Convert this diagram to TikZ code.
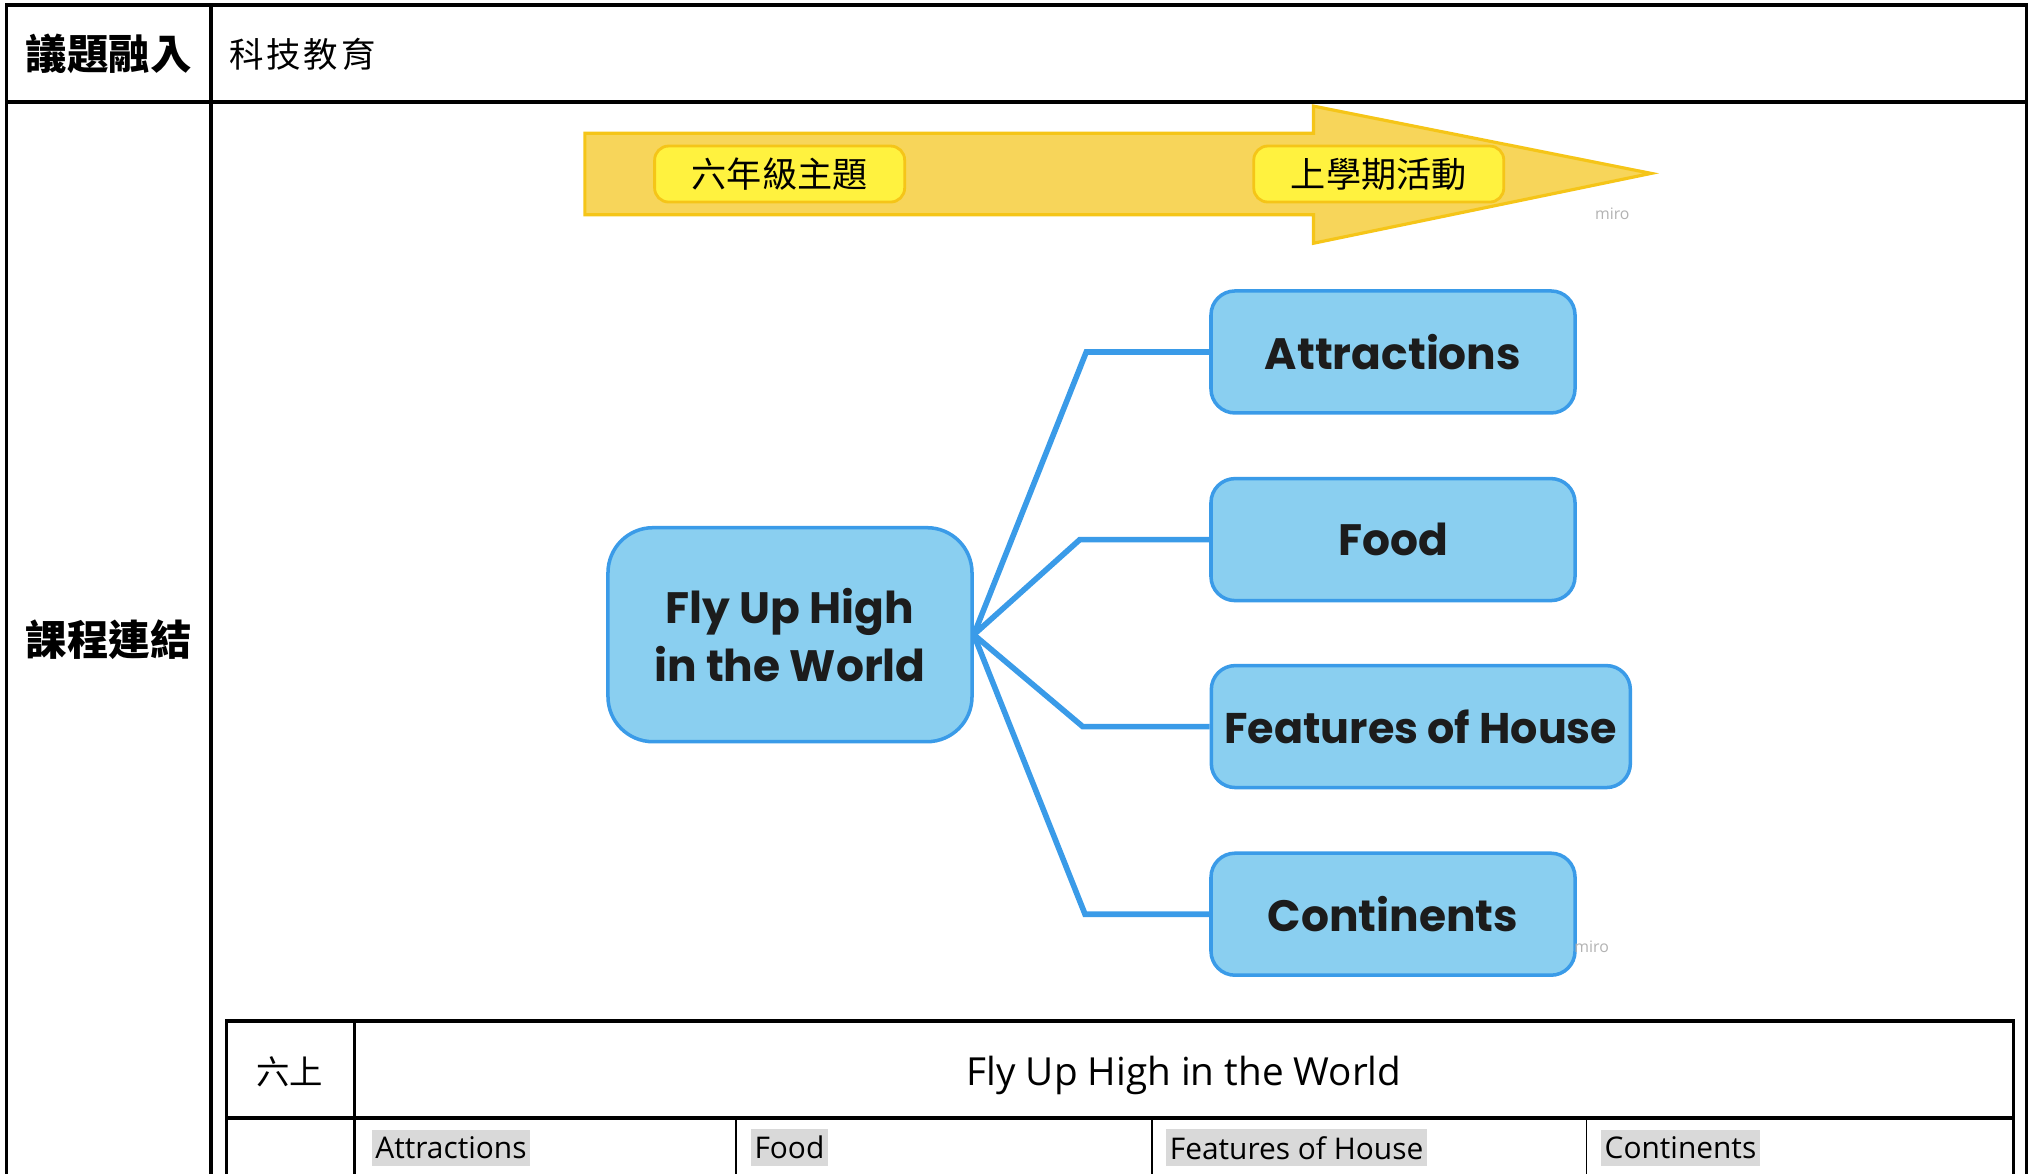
\documentclass[tikz,border=0pt]{standalone}
\usepackage{fontspec}
\setmainfont{Open Sans}
\newfontfamily\cjk{Noto Sans CJK TC}
\newfontfamily\cjkwide{Noto Sans CJK TC}[LetterSpace=8]
\newfontfamily\mapfont{Poppins}
\usetikzlibrary{calc,positioning}

\definecolor{mapfill}{HTML}{8ACFF0}
\definecolor{mapline}{HTML}{3A9BE8}
\definecolor{bandfill}{HTML}{F7D55A}
\definecolor{bandline}{HTML}{F5C518}
\definecolor{tagfill}{HTML}{FFF23F}
\definecolor{marklight}{HTML}{D9D9D9}
\definecolor{inkdark}{HTML}{1C1C1C}

\begin{document}
\begin{tikzpicture}[x=0.01294cm,y=-0.01294cm,line width=1pt,
  topic/.style={draw=mapline,fill=mapfill,line width=1pt,rounded corners=2.4mm,minimum width=3.64cm,minimum height=1.22cm,text=inkdark,font=\mapfont\bfseries\fontsize{12.5}{16.5}\selectfont},
  hubbox/.style={topic,minimum height=2.14cm,rounded corners=4.5mm,align=center},
  branch/.style={draw=mapline,line width=1.6pt},
  tagbox/.style={draw=bandline,fill=tagfill,line width=.8pt,rounded corners=1.4mm,minimum width=2.5cm,minimum height=0.56cm,font=\cjk\fontsize{10}{12}\selectfont},
  head/.style={font=\cjk\bfseries\fontsize{11.8}{13}\selectfont},
  hilite/.style={fill=marklight,inner xsep=1pt,inner ysep=2pt,anchor=west,font=\fontsize{8.5}{10}\selectfont},
  watermark/.style={text=black!30,font=\fontsize{4.5}{5}\selectfont}]

        \useasboundingbox (0,0) rectangle (1568,907);

        % outer table
        \draw (5,907) -- (5,4) -- (1566,4) -- (1566,907);
        \draw (5,79) -- (1566,79);
        \draw (163,4) -- (163,907);

        \node[head] (issue) at (84,42) {議題融入};
        \node[anchor=west,inner xsep=0pt,font=\cjkwide\fontsize{9.8}{12}\selectfont] (tech) at (176,42) {科技教育};
        \node[head] (link) at (84,494) {課程連結};

        % yellow band
        \draw[fill=bandfill,draw=bandline,line width=.9pt]
          (452,103) -- (1015,103) -- (1015,82) -- (1276,134)
          -- (1015,188) -- (1015,166) -- (452,166) -- cycle;
        \node[tagbox] (theme) at (602.5,134.5) {六年級主題};
        \node[tagbox] (term) at (1065.5,134.5) {上學期活動};
        \node[watermark] (wm1) at (1246,165) {miro};

        % mind map
        \node[hubbox] (hub) at (610.5,490.5) {Fly Up High\\in the World};
        \node[topic] (attr) at (1076.5,272) {Attractions};
        \node[topic] (food) at (1076.5,417) {Food};
        \node[topic,minimum width=4.19cm,inner xsep=1pt,font=\mapfont\bfseries\fontsize{12.2}{16}\selectfont] (house) at (1098,561.5) {Features of House};
        \node[topic] (cont) at (1076.5,706.5) {Continents};
        \node[watermark] (wm2) at (1230,732) {miro};

        \draw[branch] (hub.east) -- ($(attr.west)+(-95,0)$) -- (attr.west);
        \draw[branch] (hub.east) -- ($(food.west)+(-100,0)$) -- (food.west);
        \draw[branch] (hub.east) -- ($(house.west)+(-98,0)$) -- (house.west);
        \draw[branch] (hub.east) -- ($(cont.west)+(-96,0)$) -- (cont.west);

        % lesson table
        \draw (175,907) -- (175,789) -- (1556,789) -- (1556,907);
        \draw (175,864) -- (1556,864);
        \draw[line width=.7pt] (274,789) -- (274,907);
        \draw[line width=.5pt] (569,864) -- (569,907);
        \draw[line width=.5pt] (890,864) -- (890,907);
        \draw[line width=.5pt] (1226,864) -- (1226,907);

        \node[font=\cjk\fontsize{9.5}{11}\selectfont] (grade) at (224,828) {六上};
        \node[font=\fontsize{11}{13}\selectfont] (unit) at (915,831) {Fly Up High in the World};
        \node[hilite] (t1) at (286,887) {Attractions};
        \node[hilite] (t2) at (579,887) {Food};
        \node[hilite] (t3) at (900,887) {Features of House};
        \node[hilite] (t4) at (1236,887) {Continents};

\end{tikzpicture}
\end{document}
